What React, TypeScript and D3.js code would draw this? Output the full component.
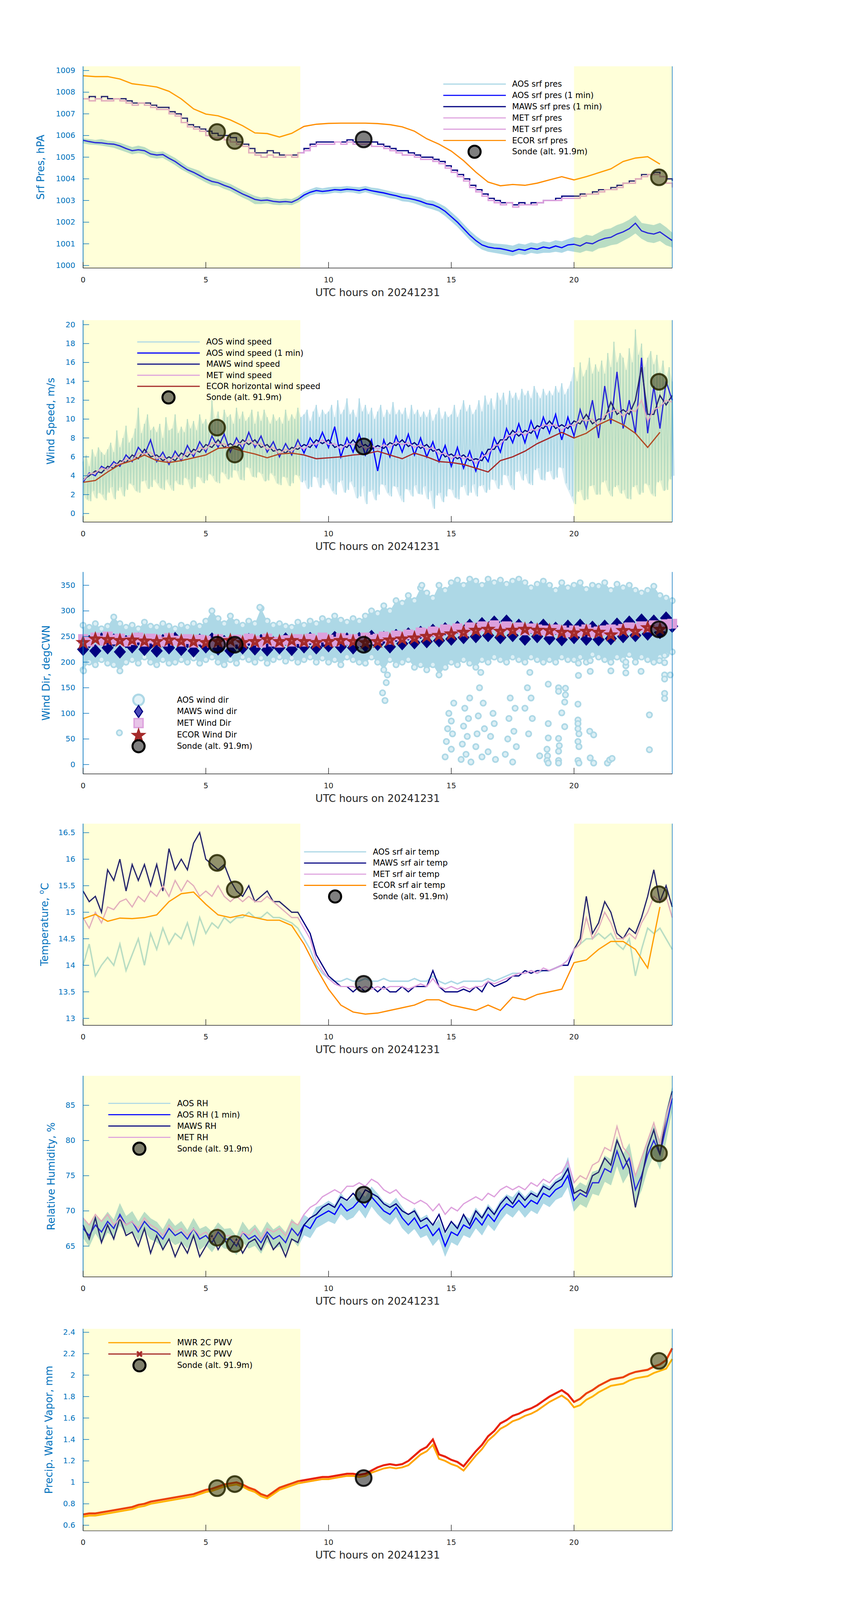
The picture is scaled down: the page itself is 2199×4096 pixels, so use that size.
import React from "react";
import * as d3 from "d3";

// ---------------- DATA (hours 0..24, step noted) ----------------
const STEP = 0.25;
const ECOR_STEP = 0.5;
const HI_STEP = 0.125;

const SONDE_TIME = [5.46, 6.18, 11.43, 23.46];
const SONDE_PRES = [1006.16, 1005.75, 1005.82, 1004.07];
const SONDE_WS = [9.1, 6.25, 7.1, 13.95];
const SONDE_DIR = [234, 234, 234, 264];
const SONDE_T = [15.93, 15.43, 13.65, 15.34];
const SONDE_RH = [66.2, 65.3, 72.3, 78.2];
const SONDE_PWV = [0.946, 0.984, 1.04, 2.133];

// Panel 1: pressure
const AOS_PRES_HI = [
  1005.85, 1005.82, 1005.78, 1005.82, 1005.75, 1005.72, 1005.65, 1005.55,
  1005.45, 1005.52, 1005.45, 1005.3, 1005.22, 1005.25, 1005.1, 1004.95,
  1004.75, 1004.55, 1004.45, 1004.35, 1004.15, 1004.05, 1003.95, 1003.85,
  1003.75, 1003.6, 1003.45, 1003.32, 1003.2, 1003.12, 1003.15, 1003.08,
  1003.05, 1003.08, 1003.05, 1003.18, 1003.38, 1003.5, 1003.6, 1003.55,
  1003.6, 1003.62, 1003.62, 1003.65, 1003.62, 1003.6, 1003.65, 1003.58,
  1003.55, 1003.48, 1003.42, 1003.35, 1003.3, 1003.25, 1003.18, 1003.12,
  1003.0, 1002.98, 1002.85, 1002.7, 1002.45, 1002.2, 1001.9, 1001.6,
  1001.35, 1001.15, 1001.05, 1001.0, 1000.98, 1000.95, 1000.9, 1001.0,
  1000.95, 1001.05, 1001.0, 1001.1, 1001.05, 1001.15, 1001.1, 1001.2,
  1001.3, 1001.25, 1001.4, 1001.35, 1001.5, 1001.65, 1001.7, 1001.85,
  1001.95, 1002.1, 1002.3, 1001.95, 1001.9, 1001.85, 1001.95, 1001.75,
  1001.5,
];
const AOS_PRES_LO = [
  1005.65, 1005.6, 1005.58, 1005.55, 1005.5, 1005.45, 1005.35, 1005.25,
  1005.15, 1005.2, 1005.15, 1005.0, 1004.95, 1004.98, 1004.82, 1004.65,
  1004.45, 1004.3, 1004.15, 1004.0, 1003.85, 1003.72, 1003.68, 1003.55,
  1003.45, 1003.3, 1003.15, 1003.02, 1002.85, 1002.85, 1002.88, 1002.82,
  1002.8, 1002.82, 1002.8, 1002.92, 1003.1, 1003.25, 1003.32, 1003.3,
  1003.32, 1003.38, 1003.35, 1003.4, 1003.38, 1003.32, 1003.4, 1003.32,
  1003.25, 1003.2, 1003.12, 1003.08, 1002.98, 1002.95, 1002.88, 1002.78,
  1002.68, 1002.6, 1002.5, 1002.3, 1002.05, 1001.8, 1001.5, 1001.2,
  1000.95, 1000.75, 1000.65, 1000.6, 1000.55, 1000.5, 1000.45, 1000.55,
  1000.5, 1000.6, 1000.55, 1000.6, 1000.6, 1000.65, 1000.6, 1000.7,
  1000.65, 1000.6, 1000.7, 1000.65, 1000.8, 1000.85, 1000.95, 1001.0,
  1001.15, 1001.3, 1001.5, 1001.25, 1001.1, 1001.05, 1001.15, 1000.95,
  1000.85,
];
const AOS_PRES_1MIN = [
  1005.78, 1005.72, 1005.67, 1005.66, 1005.62, 1005.6, 1005.52, 1005.4,
  1005.3, 1005.34, 1005.3, 1005.15, 1005.1, 1005.12, 1004.95, 1004.8,
  1004.6, 1004.42, 1004.3, 1004.15, 1004.0, 1003.88, 1003.82, 1003.7,
  1003.6, 1003.45, 1003.3, 1003.18, 1003.05, 1003.0, 1003.02, 1002.96,
  1002.93, 1002.95, 1002.92, 1003.05, 1003.25, 1003.38, 1003.46, 1003.42,
  1003.45, 1003.5, 1003.48, 1003.52, 1003.5, 1003.46, 1003.52, 1003.45,
  1003.4, 1003.35, 1003.28, 1003.22, 1003.14, 1003.1, 1003.04, 1002.96,
  1002.85, 1002.8, 1002.68, 1002.5, 1002.25, 1002.0, 1001.7, 1001.4,
  1001.15, 1000.95, 1000.85, 1000.8, 1000.78, 1000.72, 1000.65, 1000.75,
  1000.7, 1000.8, 1000.75, 1000.85, 1000.8, 1000.9, 1000.82, 1000.95,
  1000.98, 1000.9, 1001.05, 1001.0, 1001.15, 1001.25, 1001.3, 1001.45,
  1001.55, 1001.7, 1001.95, 1001.6, 1001.5, 1001.45, 1001.55, 1001.35,
  1001.15,
];
const MAWS_PRES = [
  1007.7, 1007.8, 1007.7, 1007.8, 1007.7, 1007.7, 1007.7, 1007.6,
  1007.5, 1007.5, 1007.5, 1007.4, 1007.3, 1007.3, 1007.1, 1007.0,
  1006.8, 1006.5, 1006.4, 1006.3, 1006.2, 1006.1, 1006.0, 1006.0,
  1005.9, 1005.7, 1005.6, 1005.4, 1005.2, 1005.2, 1005.3, 1005.2,
  1005.1, 1005.1, 1005.1, 1005.2, 1005.4, 1005.6, 1005.7, 1005.7,
  1005.7, 1005.7, 1005.7, 1005.8, 1005.7, 1005.7, 1005.7, 1005.7,
  1005.6, 1005.5, 1005.4, 1005.3, 1005.3, 1005.2, 1005.1, 1005.0,
  1005.0, 1004.9, 1004.8, 1004.6, 1004.4, 1004.2, 1004.0, 1003.7,
  1003.5, 1003.3, 1003.1, 1003.0, 1002.9, 1002.9, 1002.8, 1002.9,
  1002.8, 1002.9, 1002.9, 1003.0, 1003.0, 1003.1, 1003.2, 1003.2,
  1003.2, 1003.3, 1003.3, 1003.4, 1003.5, 1003.5, 1003.6, 1003.7,
  1003.8, 1003.9, 1004.0, 1004.2, 1004.2, 1004.3, 1004.1, 1004.0,
  1003.9,
];
const MET_PRES = [
  1007.7, 1007.6, 1007.7, 1007.6, 1007.6, 1007.7, 1007.6, 1007.5,
  1007.4, 1007.5, 1007.4, 1007.3, 1007.2, 1007.2, 1007.0, 1006.9,
  1006.6, 1006.4, 1006.3, 1006.2, 1006.0, 1005.9, 1005.9, 1005.8,
  1005.7, 1005.6, 1005.5, 1005.2, 1005.1, 1005.0, 1005.1, 1005.0,
  1005.0, 1005.1, 1005.0, 1005.2, 1005.3, 1005.5, 1005.6, 1005.6,
  1005.6, 1005.7, 1005.6, 1005.7, 1005.6, 1005.6, 1005.6, 1005.5,
  1005.5, 1005.4, 1005.3, 1005.2, 1005.1, 1005.1, 1005.0, 1004.9,
  1004.9, 1004.8, 1004.7, 1004.5, 1004.3, 1004.1, 1003.9, 1003.6,
  1003.4, 1003.2, 1003.0, 1002.9, 1002.8, 1002.9, 1002.7, 1002.8,
  1002.8, 1002.8, 1002.9, 1003.0, 1003.0, 1003.0, 1003.1, 1003.1,
  1003.1, 1003.2, 1003.3, 1003.3, 1003.4, 1003.5, 1003.5, 1003.6,
  1003.8, 1003.8, 1004.0, 1004.1, 1004.2, 1004.2, 1004.1, 1003.8,
  1003.6,
];
const ECOR_PRES = [
  1008.76, 1008.72, 1008.72, 1008.61, 1008.39, 1008.32, 1008.24, 1008.04, 1007.69, 1007.23,
  1006.99, 1006.91, 1006.72, 1006.45, 1006.12, 1006.09, 1005.93, 1006.1, 1006.42, 1006.52,
  1006.56, 1006.57, 1006.57, 1006.57, 1006.55, 1006.5, 1006.4, 1006.2, 1005.85, 1005.6,
  1005.28, 1004.84, 1004.31, 1003.85, 1003.68, 1003.74, 1003.7, 1003.8, 1003.95, 1004.1,
  1003.95, 1004.1, 1004.28, 1004.46, 1004.8, 1004.96, 1005.02, 1004.68,
];

// Panel 2: wind speed (raw AOS as high/low excursions every 0.125 h)
const AOS_WS_HI = [
  5.5, 6.2, 5.0, 6.8, 6.0, 7.0, 6.5, 6.2,
  6.8, 7.5, 6.5, 8.8, 7.0, 8.0, 9.3, 7.5,
  8.0, 9.0, 11.2, 8.5, 9.5, 10.5, 8.8, 9.2,
  8.6, 9.5, 8.0, 10.2, 8.8, 9.0, 10.5, 8.5,
  9.2, 8.6, 10.0, 9.0, 9.8, 8.8, 10.5, 9.5,
  10.0, 9.2, 12.0, 10.0, 10.8, 9.6, 11.0, 10.2,
  10.5, 9.5, 11.2, 10.0, 10.8, 9.8, 10.2, 11.0,
  9.5, 10.8, 9.8, 11.0, 10.2, 9.5, 10.5, 9.8,
  10.2, 9.5, 11.0, 9.8, 10.5, 10.0, 11.2, 10.2,
  10.5, 11.0, 9.8, 10.8, 11.5, 10.2, 11.0, 10.5,
  10.8, 11.5, 10.2, 12.0, 10.5, 11.0, 12.2, 10.5,
  11.0, 10.2, 12.2, 10.8, 11.5, 10.5, 11.2, 10.0,
  10.8, 11.5, 10.2, 11.0, 10.5, 11.8, 10.5, 11.0,
  10.5, 11.2, 10.0, 11.5, 10.5, 11.0, 10.2, 10.8,
  10.2, 11.0, 9.8, 10.5, 11.2, 10.0, 10.8, 10.2,
  10.5, 11.5, 10.2, 11.0, 12.0, 10.8, 11.5, 10.5,
  11.0, 12.0, 10.8, 12.5, 11.5, 12.2, 11.0, 12.8,
  12.0, 12.8, 11.5, 13.0, 12.2, 12.8, 12.0, 13.2,
  12.5, 13.0, 12.2, 13.5, 12.8, 12.2, 13.2, 12.5,
  13.0, 12.5, 13.5, 12.8, 13.8, 12.6, 13.2, 14.0,
  15.5, 14.0, 16.0, 14.5, 15.2, 16.5, 14.8, 15.8,
  15.0, 16.2, 14.8, 17.0, 15.5, 18.2, 16.0, 17.0,
  16.5, 15.2, 17.5, 16.0, 19.5, 16.8, 18.0, 15.5,
  16.5, 17.2, 15.8, 16.8, 15.0, 16.2, 14.5, 15.5,
  14.0,
];
const AOS_WS_LO = [
  2.0, 1.5, 1.3, 2.4, 1.6, 2.2, 2.0, 1.4,
  2.2, 2.8, 1.5, 2.4, 2.8, 1.8, 2.5, 3.2,
  3.0, 2.4, 2.2, 3.4, 3.5, 2.6, 2.8, 3.6,
  3.2, 2.7, 2.5, 3.6, 3.0, 2.4, 3.5, 3.1,
  3.0, 3.8, 3.6, 2.6, 2.8, 3.9, 3.8, 3.2,
  3.5, 4.2, 4.0, 3.4, 3.2, 4.4, 4.2, 3.6,
  3.8, 4.6, 4.5, 3.6, 3.5, 4.9, 4.8, 3.9,
  3.8, 4.4, 4.2, 3.4, 3.5, 4.3, 4.0, 3.2,
  3.0, 3.9, 3.8, 2.9, 3.2, 4.1, 4.0, 3.3,
  3.5, 2.6, 2.8, 3.9, 3.8, 2.7, 3.0, 3.7,
  3.2, 2.4, 2.0, 3.3, 3.5, 2.2, 2.5, 3.4,
  2.8, 1.6, 1.8, 2.9, 1.0, 2.3, 2.5, 1.4,
  2.0, 3.1, 3.0, 2.2, 1.8, 2.9, 2.8, 1.9,
  1.2, 2.6, 2.5, 1.8, 3.0, 2.1, 2.0, 2.9,
  1.5, 2.4, 0.5, 1.9, 2.2, 1.2, 1.8, 2.6,
  2.5, 1.7, 1.5, 2.8, 3.0, 1.9, 2.2, 3.1,
  1.8, 2.9, 3.0, 2.2, 2.5, 3.6, 3.5, 2.6,
  3.0, 4.1, 4.0, 3.0, 2.5, 4.4, 4.5, 3.5,
  4.2, 3.2, 3.0, 4.6, 4.8, 3.6, 3.5, 4.4,
  4.5, 3.6, 3.8, 4.9, 4.8, 3.2, 2.5, 1.8,
  1.0, 2.3, 2.5, 1.4, 1.5, 2.9, 3.0, 2.0,
  2.0, 3.3, 3.5, 2.4, 1.8, 2.8, 3.0, 2.1,
  2.5, 1.6, 1.5, 2.8, 3.0, 2.0, 2.2, 3.2,
  3.0, 2.1, 1.8, 3.3, 3.5, 2.4, 2.5, 3.6,
  4.0,
];
const AOS_WS_1MIN = [
  3.3, 4.3, 4.0, 5.0, 4.6, 5.5, 5.0, 6.2, 5.5, 7.0, 6.2, 7.8,
  5.5, 6.5, 5.2, 6.6, 5.6, 7.2, 6.0, 7.6, 6.5, 8.2, 7.0, 8.4,
  6.5, 8.0, 6.8, 8.6, 7.0, 8.2, 6.5, 7.6, 6.0, 7.4, 6.2, 7.8,
  6.4, 8.0, 7.0, 8.6, 7.0, 9.2, 6.0, 8.0, 6.5, 8.4, 6.2, 7.8,
  4.5, 7.8, 6.0, 8.2, 6.5, 8.4, 6.2, 8.0, 6.0, 7.6, 5.5, 7.2,
  5.0, 7.0, 4.8, 6.6, 4.5, 6.5, 5.5, 8.0, 6.5, 9.0, 7.5, 9.5,
  7.5, 9.8, 8.0, 10.2, 8.5, 10.5, 7.8, 10.2, 8.2, 11.0, 9.0, 12.0,
  8.0, 13.5, 9.5, 15.0, 9.0, 12.0, 8.5, 16.5, 8.5, 13.5, 9.0, 14.0,
  12.0,
];
const MAWS_WS = [
  3.6, 4.0, 4.5, 4.3, 5.0, 4.8, 5.6, 5.4, 6.2, 5.8, 6.8, 6.0,
  6.2, 5.6, 6.0, 5.6, 6.4, 6.0, 6.8, 6.5, 7.3, 7.0, 7.8, 7.0,
  7.4, 7.0, 7.8, 7.3, 7.8, 7.0, 7.3, 6.6, 6.8, 6.4, 7.0, 6.8,
  7.3, 7.0, 7.8, 7.4, 7.8, 7.0, 7.3, 7.0, 7.8, 7.0, 7.3, 6.8,
  7.2, 6.9, 7.5, 7.2, 7.8, 7.1, 7.5, 6.9, 7.3, 6.6, 6.8, 6.0,
  6.3, 5.8, 6.2, 5.6, 5.8, 5.6, 6.8, 6.8, 7.8, 7.8, 8.8, 8.2,
  8.8, 8.5, 9.3, 9.0, 9.8, 9.0, 9.4, 9.0, 9.8, 9.5, 10.5, 9.5,
  10.0, 10.0, 11.8, 10.5, 11.0, 10.5, 12.0, 15.5, 10.5, 10.5, 12.5, 11.5,
  12.5,
];
const MET_WS = [
  3.5, 4.2, 4.3, 4.8, 4.6, 5.2, 5.2, 5.8, 5.6, 6.4, 6.3, 6.5,
  5.8, 6.0, 5.5, 6.1, 5.8, 6.5, 6.3, 7.0, 6.8, 7.5, 7.3, 7.4,
  6.8, 7.5, 7.3, 7.8, 7.3, 7.4, 6.8, 7.0, 6.3, 6.8, 6.6, 7.2,
  6.8, 7.4, 7.3, 7.8, 7.3, 7.4, 6.8, 7.4, 7.3, 7.5, 6.8, 7.2,
  6.8, 7.3, 7.0, 7.6, 7.3, 7.5, 7.0, 7.3, 6.8, 7.0, 6.3, 6.4,
  5.8, 6.2, 5.8, 6.0, 5.3, 6.0, 6.3, 7.2, 7.3, 8.2, 8.3, 8.7,
  8.3, 8.9, 8.8, 9.4, 9.3, 9.4, 8.8, 9.4, 9.3, 10.0, 9.8, 10.0,
  9.3, 10.4, 10.8, 11.0, 10.3, 11.0, 10.8, 12.0, 9.8, 11.0, 11.3, 12.0,
  11.8,
];
const ECOR_WS = [
  3.3, 3.5, 4.4, 5.2, 5.6, 6.2, 5.6, 5.4, 5.6, 5.9,
  6.2, 6.9, 7.0, 6.6, 6.3, 5.9, 6.3, 6.4, 6.2, 5.8,
  5.9, 6.0, 6.2, 6.3, 6.6, 6.2, 5.8, 6.4, 6.0, 5.5,
  5.4, 5.2, 4.8, 4.4, 5.6, 6.0, 6.6, 7.4, 8.0, 8.6,
  8.0, 8.5, 9.4, 10.0, 9.4, 8.5, 7.0, 8.6,
];

// Panel 3: wind direction
const AOS_DIR_HI = [
  272, 268, 275, 265, 270, 288, 275, 268, 272, 265, 278, 270,
  268, 275, 270, 265, 272, 268, 275, 270, 280, 300, 285, 275,
  290, 278, 272, 280, 275, 305, 280, 272, 275, 270, 268, 278,
  272, 280, 275, 285, 280, 290, 282, 278, 285, 280, 290, 300,
  295, 310, 300, 320, 315, 330, 320, 345, 335, 325, 350, 340,
  355, 360, 350, 362, 358, 350, 362, 355, 360, 352, 358, 362,
  355, 345, 352, 358, 350, 340, 355, 345, 350, 355, 342, 350,
  348, 355, 340, 352, 345, 350, 340, 335, 340, 348, 330, 325,
  320,
];
const AOS_DIR_LO = [
  185, 200, 195, 205, 198, 195, 183, 200, 205, 198, 210, 200,
  195, 205, 198, 200, 205, 200, 208, 198, 205, 210, 200, 195,
  205, 198, 210, 205, 200, 208, 198, 205, 210, 202, 208, 200,
  205, 210, 200, 208, 200, 205, 195, 210, 205, 200, 198, 210,
  200, 185, 205, 195, 200, 205, 190, 195, 185, 195, 175, 190,
  200, 195, 205, 198, 190, 205, 200, 210, 205, 200, 210, 205,
  200, 210, 205, 200, 205, 200, 210, 205, 205, 210, 200, 215,
  210, 205, 200, 210, 205, 215, 200, 210, 205, 200, 210, 215,
  220,
];
// scattered AOS wind-direction points: [hour, degrees]
const AOS_DIR_OUT = [
  [1.48, 62], [0.02, 183], [7.2, 307], [12.2, 140], [12.3, 125], [12.35, 160], [12.4, 175], [13.8, 350],
  [14.75, 15], [14.8, 45], [14.85, 70], [14.9, 100], [15.0, 30], [15.05, 60], [15.1, 120], [15.0, 85],
  [15.4, 10], [15.45, 40], [15.5, 75], [15.55, 110], [15.6, 20], [15.65, 55], [15.7, 90], [15.8, 5], [15.75, 130],
  [16.0, 35], [16.05, 60], [16.1, 95], [16.15, 150], [16.2, 180], [16.25, 15], [16.3, 120], [16.35, 70],
  [16.5, 25], [16.6, 55], [16.7, 100], [16.75, 80], [16.8, 10],
  [17.2, 20], [17.3, 50], [17.35, 90], [17.4, 130], [17.5, 5], [17.55, 65], [17.6, 110], [17.65, 35],
  [18.0, 110], [18.1, 150], [18.2, 180], [18.25, 130], [18.3, 90], [18.15, 60],
  [18.6, 17], [18.9, 30], [18.92, 17], [18.9, 8], [18.95, 3], [18.95, 80], [18.95, 52], [18.95, 157],
  [19.37, 51], [19.4, 37], [19.37, 26], [19.37, 8], [19.37, 3], [19.62, 74], [19.5, 101], [19.62, 122],
  [19.65, 136], [19.65, 149], [19.37, 150], [19.37, 143],
  [20.16, 118], [20.16, 87], [20.16, 80], [20.16, 70], [20.2, 60], [20.16, 45], [20.2, 35], [20.16, 8],
  [20.2, 3], [20.18, 174], [20.18, 198],
  [20.66, 182], [20.66, 203], [20.64, 65], [20.8, 58], [20.66, 13], [20.8, 3],
  [21.36, 3], [21.45, 9], [21.55, 12], [21.5, 183], [21.5, 200],
  [22.11, 179], [22.11, 193], [22.11, 200], [22.73, 182], [23.07, 97], [23.07, 29], [23.48, 203],
  [23.69, 175], [23.69, 167], [23.69, 139], [23.69, 129], [23.69, 199], [23.69, 213], [23.92, 175],
];
const MAWS_DIR = [
  225, 240, 222, 245, 228, 243, 220, 240, 230, 245, 225, 238,
  222, 242, 228, 246, 225, 240, 222, 243, 230, 245, 226, 240,
  222, 238, 228, 244, 226, 242, 224, 238, 228, 245, 225, 240,
  230, 246, 228, 242, 232, 248, 230, 245, 228, 246, 232, 250,
  235, 248, 230, 252, 236, 255, 238, 258, 240, 262, 242, 265,
  245, 268, 248, 272, 250, 275, 252, 278, 248, 280, 252, 272,
  245, 268, 250, 272, 246, 266, 244, 270, 248, 272, 245, 268,
  244, 270, 246, 274, 250, 278, 252, 282, 255, 280, 258, 286,
  270,
];
const MET_DIR = [
  245, 240, 248, 242, 250, 244, 246, 240, 243, 248, 240, 246,
  244, 240, 247, 242, 240, 245, 238, 244, 242, 238, 245, 240,
  238, 244, 240, 246, 242, 238, 246, 240, 238, 243, 240, 245,
  240, 246, 242, 248, 244, 240, 247, 243, 245, 241, 248, 244,
  246, 250, 244, 252, 250, 254, 252, 258, 256, 260, 258, 264,
  262, 266, 260, 268, 265, 270, 268, 272, 266, 270, 265, 268,
  262, 266, 264, 262, 260, 264, 262, 258, 262, 260, 264, 258,
  260, 262, 264, 262, 265, 268, 266, 270, 268, 272, 270, 274,
  275,
];
const ECOR_DIR = [
  238, 245, 244, 242, 243, 241, 240, 243, 241, 240,
  238, 240, 242, 238, 240, 244, 240, 242, 240, 238,
  240, 242, 240, 238, 240, 243, 245, 247, 250, 252,
  255, 258, 262, 264, 260, 262, 264, 262, 261.5, 258,
  257, 260, 258, 253, 261.5, 260, 267, 264,
];

// Panel 4: temperature
const AOS_T = [
  14.0, 14.4, 13.8, 14.0, 14.15, 14.0, 14.4, 13.9, 14.2, 14.5, 14.0, 14.6,
  14.3, 14.7, 14.4, 14.6, 14.5, 14.8, 14.4, 14.9, 14.6, 14.8, 14.7, 14.9,
  14.8, 14.9, 14.9, 15.0, 14.9, 14.9, 15.0, 14.9, 14.9, 14.85, 14.8, 14.7,
  14.5, 14.3, 14.0, 13.85, 13.75, 13.7, 13.7, 13.75, 13.7, 13.7, 13.75, 13.7,
  13.7, 13.75, 13.7, 13.7, 13.7, 13.7, 13.75, 13.7, 13.7, 13.8, 13.7, 13.65,
  13.7, 13.65, 13.7, 13.7, 13.7, 13.7, 13.75, 13.7, 13.75, 13.8, 13.85, 13.85,
  13.85, 13.9, 13.85, 13.9, 13.9, 13.95, 14.0, 14.1, 14.3, 14.4, 14.5, 14.5,
  14.6, 14.5, 14.6, 14.4, 14.3, 14.5, 13.8, 14.3, 14.7, 14.6, 14.7, 14.5,
  14.3,
];
const MAWS_T = [
  15.4, 15.2, 15.3, 15.0, 15.8, 15.6, 16.0, 15.4, 15.9, 15.6, 15.9, 15.5,
  15.9, 15.4, 16.2, 15.8, 16.0, 15.8, 16.3, 16.5, 16.0, 15.9, 15.8, 15.9,
  15.6, 15.4, 15.3, 15.5, 15.2, 15.3, 15.4, 15.2, 15.2, 15.1, 15.0, 15.0,
  14.8, 14.6, 14.2, 14.0, 13.8, 13.7, 13.6, 13.6, 13.5, 13.6, 13.5, 13.6,
  13.5, 13.6, 13.5, 13.5, 13.6, 13.5, 13.6, 13.6, 13.6, 13.9, 13.6, 13.5,
  13.5, 13.5, 13.55, 13.5, 13.6, 13.5, 13.7, 13.6, 13.65, 13.7, 13.8, 13.8,
  13.9, 13.85, 13.9, 13.9, 13.9, 13.95, 14.0, 14.0, 14.3, 14.5, 15.3, 14.6,
  14.8, 15.2, 15.0, 14.6, 14.5, 14.7, 14.6, 14.9, 15.3, 15.8, 15.2, 15.5,
  15.1,
];
const MET_T = [
  14.9, 14.7, 15.0, 14.8, 15.1, 15.05, 15.2, 15.25, 15.1, 15.3, 15.2, 15.4,
  15.3, 15.5, 15.3, 15.6, 15.4, 15.6, 15.5, 15.3, 15.4, 15.3, 15.5, 15.3,
  15.2, 15.3, 15.2, 15.3, 15.2, 15.2, 15.3, 15.2, 15.1, 15.0, 14.9, 14.9,
  14.7, 14.5, 14.1, 13.9, 13.75, 13.65, 13.6, 13.6, 13.6, 13.55, 13.6, 13.55,
  13.6, 13.55, 13.6, 13.6, 13.6, 13.55, 13.6, 13.65, 13.6, 13.75, 13.6, 13.55,
  13.6, 13.55, 13.6, 13.55, 13.6, 13.6, 13.7, 13.65, 13.7, 13.75, 13.8, 13.85,
  13.85, 13.9, 13.85, 13.95, 13.9, 13.95, 14.0, 14.1, 14.3, 14.4, 14.9, 14.5,
  14.7, 15.0, 14.8, 14.5, 14.5, 14.6, 14.5, 14.8, 15.0, 15.3, 15.2, 15.3,
  14.9,
];
const ECOR_T = [
  14.88, 14.96, 14.83, 14.89, 14.88, 14.9, 14.95, 15.2, 15.35, 15.38,
  15.15, 14.95, 14.9, 14.95, 14.9, 14.85, 14.85, 14.75, 14.4, 13.95,
  13.55, 13.25, 13.12, 13.08, 13.1, 13.15, 13.2, 13.25, 13.35, 13.35,
  13.25, 13.2, 13.15, 13.25, 13.15, 13.4, 13.35, 13.45, 13.5, 13.55,
  14.05, 14.1, 14.3, 14.45, 14.45, 14.3, 13.95, 15.1,
];

// Panel 5: relative humidity
const AOS_RH_HI = [
  69.0, 67.8, 69.2, 68.6, 69.8, 68.7, 71.0, 69.2, 69.9, 68.4, 69.8, 68.9,
  68.4, 67.3, 68.9, 67.8, 68.5, 67.2, 68.9, 67.4, 67.8, 67.0, 68.3, 67.4,
  67.5, 66.3, 68.4, 67.2, 68.0, 66.8, 68.4, 67.3, 67.9, 66.9, 68.8, 67.9,
  69.4, 68.8, 70.5, 70.8, 71.4, 70.8, 72.5, 71.3, 71.9, 72.8, 71.9, 73.4,
  72.4, 71.3, 70.9, 71.8, 70.5, 69.3, 70.4, 68.9, 69.4, 67.9, 68.8, 66.5,
  68.4, 67.9, 69.4, 68.8, 70.4, 69.3, 70.9, 69.9, 71.4, 72.3, 71.9, 72.9,
  71.9, 72.9, 72.4, 73.9, 73.4, 74.4, 75.0, 77.5, 73.0, 74.0, 73.5, 75.5,
  75.8, 77.8, 77.3, 80.5, 78.0, 79.5, 75.0, 77.0, 80.0, 82.0, 80.0, 84.0,
  87.5,
];
const AOS_RH_LO = [
  66.2, 65.0, 66.9, 65.5, 67.0, 66.3, 68.0, 66.8, 67.1, 65.8, 67.2, 66.0,
  65.6, 64.8, 66.0, 65.2, 65.6, 64.7, 66.2, 64.5, 65.2, 64.2, 65.5, 64.7,
  64.6, 63.8, 65.6, 64.7, 65.1, 64.0, 65.7, 64.6, 65.0, 64.2, 66.1, 65.0,
  66.6, 66.2, 67.6, 68.1, 68.6, 68.2, 69.6, 68.7, 69.1, 70.2, 69.0, 70.7,
  69.6, 68.7, 68.1, 69.2, 67.6, 66.7, 67.5, 66.2, 66.6, 65.1, 66.1, 63.6,
  65.6, 65.1, 66.6, 66.2, 67.6, 66.6, 68.1, 67.2, 68.6, 69.7, 69.1, 70.2,
  69.1, 70.1, 69.6, 71.1, 70.6, 71.6, 72.0, 73.5, 70.0, 71.0, 70.5, 72.5,
  72.2, 74.2, 73.7, 76.5, 74.0, 75.5, 71.0, 73.0, 76.0, 78.0, 76.0, 80.0,
  84.5,
];
const AOS_RH_1MIN = [
  67.5, 66.5, 68.0, 67.0, 68.5, 67.5, 69.5, 68.0, 68.5, 67.0, 68.5, 67.5,
  67.0, 66.0, 67.5, 66.5, 67.0, 66.0, 67.5, 66.0, 66.5, 65.5, 67.0, 66.0,
  66.0, 65.0, 67.0, 66.0, 66.5, 65.5, 67.0, 66.0, 66.5, 65.5, 67.5, 66.5,
  68.0, 67.5, 69.0, 69.5, 70.0, 69.5, 71.0, 70.0, 70.5, 71.5, 70.5, 72.0,
  71.0, 70.0, 69.5, 70.5, 69.0, 68.0, 69.0, 67.5, 68.0, 66.5, 67.5, 65.0,
  67.0, 66.5, 68.0, 67.5, 69.0, 68.0, 69.5, 68.5, 70.0, 71.0, 70.5, 71.5,
  70.5, 71.5, 71.0, 72.5, 72.0, 73.0, 73.5, 75.0, 71.5, 72.5, 72.0, 74.0,
  74.0, 76.0, 75.5, 78.5, 76.0, 77.5, 73.0, 75.0, 78.0, 80.0, 78.0, 82.0,
  86.0,
];
const MAWS_RH = [
  68.0, 66.0, 69.0, 65.5, 68.0, 66.0, 69.0, 66.5, 67.0, 65.0, 67.5, 64.0,
  66.5, 64.5, 66.0, 63.5, 65.5, 64.0, 66.5, 63.5, 65.0, 66.5, 64.5, 66.0,
  64.5, 66.0, 64.0, 65.5, 66.0, 64.5, 66.5, 64.5, 65.5, 63.5, 66.0, 65.5,
  68.0, 69.0, 69.5, 70.5, 71.0, 70.5, 72.0, 71.5, 72.5, 71.5, 73.0, 72.5,
  72.0, 71.0, 70.5, 71.0, 70.0, 69.5, 70.0, 68.5, 69.0, 68.0, 69.5, 67.0,
  68.5, 67.5, 69.5, 68.0, 70.0, 69.0, 70.5, 69.5, 71.0, 72.0, 71.0, 72.5,
  71.5, 72.5, 72.0, 73.5, 73.0, 74.0, 74.5, 76.0, 72.5, 73.0, 72.5, 75.0,
  75.5, 77.5, 76.5, 80.0, 78.0, 76.0, 70.5, 74.5, 79.0, 81.5, 78.0, 83.5,
  87.0,
];
const MET_RH = [
  69.0, 68.0, 69.5, 68.5, 69.5, 68.0, 69.0, 68.0, 68.5, 67.5, 69.0, 68.0,
  67.5, 66.5, 68.0, 67.0, 67.5, 66.5, 67.5, 66.5, 67.0, 66.0, 67.5, 66.5,
  66.5, 65.5, 67.0, 66.5, 67.5, 66.0, 67.5, 67.0, 67.5, 66.5, 68.5, 68.0,
  69.5, 70.5, 71.0, 72.0, 72.5, 73.0, 72.5, 73.5, 73.5, 74.0, 73.5, 74.5,
  74.0, 73.0, 72.5, 73.0, 72.0, 71.5, 71.0, 71.5, 71.0, 70.0, 71.0, 69.5,
  70.5, 70.0, 71.0, 71.5, 72.0, 71.5, 72.5, 72.0, 73.0, 73.5, 73.0, 73.5,
  73.0, 74.0, 73.5, 74.5, 74.0, 75.0, 75.5, 77.0, 74.0, 75.0, 74.5, 76.5,
  77.0, 79.0, 78.5, 82.0, 79.0, 78.0, 75.0, 77.5, 80.0, 82.5, 79.5, 83.5,
  86.5,
];

// Panel 6: precipitable water vapor
const MWR2C_PWV = [
  0.68, 0.69, 0.69, 0.7, 0.71, 0.72, 0.73, 0.74, 0.75, 0.77, 0.78, 0.8,
  0.81, 0.82, 0.83, 0.84, 0.85, 0.86, 0.87, 0.89, 0.91, 0.92, 0.94, 0.96,
  0.97, 0.98, 0.96, 0.93, 0.91, 0.87, 0.85, 0.89, 0.93, 0.95, 0.97, 0.99,
  1.0, 1.01, 1.02, 1.03, 1.03, 1.04, 1.05, 1.06, 1.06, 1.05, 1.06, 1.09,
  1.11, 1.13, 1.14, 1.13, 1.14, 1.16, 1.21, 1.26, 1.29, 1.35, 1.22, 1.2,
  1.17, 1.15, 1.11, 1.18, 1.25, 1.31, 1.39, 1.44, 1.5, 1.53, 1.57, 1.59,
  1.62, 1.64, 1.67, 1.71, 1.75, 1.78, 1.81, 1.77, 1.7, 1.72, 1.77, 1.8,
  1.84, 1.87, 1.9, 1.91, 1.92, 1.95, 1.97, 1.98, 1.99, 2.02, 2.04, 2.06,
  2.15,
];
const MWR3C_PWV = [
  0.7, 0.71, 0.71, 0.72, 0.73, 0.74, 0.75, 0.76, 0.77, 0.79, 0.8, 0.82,
  0.83, 0.84, 0.85, 0.86, 0.87, 0.88, 0.89, 0.91, 0.93, 0.94, 0.96, 0.98,
  0.99, 1.0, 0.98, 0.95, 0.93, 0.89, 0.87, 0.91, 0.95, 0.97, 0.99, 1.01,
  1.02, 1.03, 1.04, 1.05, 1.05, 1.06, 1.07, 1.08, 1.08, 1.07, 1.08, 1.11,
  1.14, 1.16, 1.17, 1.16, 1.17, 1.2, 1.25, 1.3, 1.33, 1.4, 1.26, 1.24,
  1.21, 1.19, 1.15, 1.22, 1.29, 1.35, 1.43, 1.48, 1.55, 1.58, 1.62, 1.64,
  1.67, 1.69, 1.72, 1.76, 1.8, 1.83, 1.86, 1.82, 1.75, 1.78, 1.83, 1.86,
  1.9, 1.93, 1.96, 1.97, 1.98, 2.01, 2.03, 2.04, 2.05, 2.08, 2.1, 2.14,
  2.25,
];

// Axis ticks
const X_TICKS = [0, 5, 10, 15, 20];
const PRES_TICKS = [1000, 1001, 1002, 1003, 1004, 1005, 1006, 1007, 1008, 1009];
const WS_TICKS = [0, 2, 4, 6, 8, 10, 12, 14, 16, 18, 20];
const DIR_TICKS = [0, 50, 100, 150, 200, 250, 300, 350];
const T_TICKS = [13, 13.5, 14, 14.5, 15, 15.5, 16, 16.5];
const RH_TICKS = [65, 70, 75, 80, 85];
const PWV_TICKS = [0.6, 0.8, 1, 1.2, 1.4, 1.6, 1.8, 2, 2.2, 2.4];
const SHADE = [[0, 8.85], [20, 24]];

// ---------------- LAYOUT (reference pixels, scaled by S) ----------------
const S = 0.574;
const X0 = 370.5;
const X1 = 2998;
const AX = "#0072BD";
const DARK = "#262626";
const FONT = "DejaVu Sans, Verdana, sans-serif";
const LW = 5.5;

const C = {
  aos: "#ADD8E6",
  aos1: "#0000FF",
  maws: "#000080",
  met: "#DDA0DD",
  ecor: "#FF8C00",
  ecorWs: "#A52A2A",
  mwr2: "#FFA500",
  mwr3: "#E8220C",
};

const x = d3.scaleLinear().domain([0, 24]).range([X0, X1]);

function pts(arr, step) {
  return arr.map((v, i) => [i * step, v]);
}

function linePath(y, arr, step, curve) {
  const g = d3.line().x((d) => x(d[0])).y((d) => y(d[1]));
  if (curve) g.curve(curve);
  return g(pts(arr, step));
}

function bandPath(y, hi, hiStep, lo, loStep) {
  const top = pts(hi, hiStep).map((d) => [x(d[0]), y(d[1])]);
  const bot = pts(lo, loStep).map((d) => [x(d[0]), y(d[1])]).reverse();
  return d3.line()(top.concat(bot)) + "Z";
}

// zig-zag through high and low excursions (same step)
function zigzagPath(y, hi, lo, step) {
  const seq = [];
  hi.forEach((v, i) => {
    seq.push([x(i * step), y(v)]);
    if (i < lo.length) seq.push([x(i * step + step / 2), y(lo[i])]);
  });
  return d3.line()(seq);
}

function starPath(cx, cy, R) {
  const r = R * 0.4;
  let d = "";
  for (let k = 0; k < 10; k++) {
    const a = -Math.PI / 2 + (k * Math.PI) / 5;
    const rad = k % 2 === 0 ? R : r;
    d += (k ? "L" : "M") + (cx + rad * Math.cos(a)).toFixed(1) + "," + (cy + rad * Math.sin(a)).toFixed(1);
  }
  return d + "Z";
}

function diamondPath(cx, cy, w, h) {
  return `M${cx},${cy - h}L${cx + w},${cy}L${cx},${cy + h}L${cx - w},${cy}Z`;
}

function xPath(cx, cy, r) {
  return `M${cx - r},${cy - r}L${cx + r},${cy + r}M${cx - r},${cy + r}L${cx + r},${cy - r}`;
}

function Sonde({ y, vals }) {
  return (
    <g>
      {SONDE_TIME.map((t, i) => (
        <circle key={i} cx={x(t)} cy={y(vals[i])} r={35} fill="#000" fillOpacity={0.5}
          stroke="#000" strokeOpacity={0.85} strokeWidth={9} />
      ))}
    </g>
  );
}

function Frame({ p, y }) {
  const mid = (p.top + p.bottom) / 2;
  return (
    <g fontFamily={FONT}>
      <line x1={X0} x2={X0} y1={p.top} y2={p.bottom} stroke={AX} strokeWidth={3} />
      <line x1={X1} x2={X1} y1={p.top} y2={p.bottom} stroke={AX} strokeWidth={2.5} />
      <line x1={X0} x2={X1} y1={p.bottom} y2={p.bottom} stroke={DARK} strokeWidth={2.5} />
      {p.ticks.map((t, k) => (
        <g key={k}>
          <line x1={X0} x2={X0 + 27} y1={y(t)} y2={y(t)} stroke={AX} strokeWidth={2.5} />
          <text x={X0 - 35} y={y(t)} textAnchor="end" dominantBaseline="central" fontSize={34} fill={AX}>
            {String(t)}
          </text>
        </g>
      ))}
      {X_TICKS.map((t, k) => (
        <g key={"x" + k}>
          <line x1={x(t)} x2={x(t)} y1={p.bottom} y2={p.bottom - 27} stroke={DARK} strokeWidth={2.5} />
          <text x={x(t)} y={p.bottom + 52} textAnchor="middle" dominantBaseline="central" fontSize={34} fill={DARK}>
            {String(t)}
          </text>
        </g>
      ))}
      <text x={(X0 + X1) / 2} y={p.bottom + 108} textAnchor="middle" dominantBaseline="central" fontSize={46} fill={DARK}>
        UTC hours on 20241231
      </text>
      <text transform={`translate(${p.labelX},${mid}) rotate(-90)`} textAnchor="middle" dominantBaseline="central"
        fontSize={46} fill={AX}>
        {p.label}
        {p.sup ? (
          <>
            <tspan dy={-14} fontSize={30}>o</tspan>
            <tspan dy={14}>C</tspan>
          </>
        ) : null}
      </text>
    </g>
  );
}

function Shade({ p }) {
  return (
    <g>
      {SHADE.map((s, k) => (
        <rect key={k} x={x(s[0])} y={p.top} width={x(s[1]) - x(s[0])} height={p.bottom - p.top}
          fill="#FFFF00" fillOpacity={0.15} />
      ))}
    </g>
  );
}

function Legend({ lx0, lx1, tx, y0, dy, items }) {
  const cx = (lx0 + lx1) / 2;
  return (
    <g fontFamily={FONT}>
      {items.map((it, i) => {
        const yy = y0 + i * dy;
        let mark = null;
        if (it.kind === "line") {
          mark = (
            <g>
              <line x1={lx0} x2={lx1} y1={yy} y2={yy} stroke={it.color} strokeWidth={5} />
              {it.xmark ? <path d={xPath(cx, yy, 11)} stroke={it.color} strokeWidth={9} /> : null}
            </g>
          );
        } else if (it.kind === "sonde") {
          mark = <circle cx={it.mx || cx} cy={yy} r={27} fill="#000" fillOpacity={0.5} stroke="#000" strokeWidth={9} />;
        } else if (it.kind === "circle") {
          mark = <circle cx={it.mx} cy={yy} r={24} fill="#E4F3F8" stroke={C.aos} strokeWidth={9} />;
        } else if (it.kind === "diamond") {
          mark = <path d={diamondPath(it.mx, yy, 18, 27)} fill="#4848B8" stroke={C.maws} strokeWidth={5} />;
        } else if (it.kind === "square") {
          mark = <rect x={it.mx - 20} y={yy - 20} width={40} height={40} fill="#E8C4E8" stroke={C.met} strokeWidth={6} />;
        } else if (it.kind === "star") {
          mark = <path d={starPath(it.mx, yy + 4, 34)} fill={C.ecorWs} stroke={C.ecorWs} strokeWidth={2} />;
        }
        return (
          <g key={i}>
            {mark}
            <text x={tx} y={yy} dominantBaseline="central" fontSize={36} fill="#000">{it.label}</text>
          </g>
        );
      })}
    </g>
  );
}

const P = [
  { top: 295.6, bottom: 1195.6, domain: [999.88, 1009.196], ticks: PRES_TICKS, label: "Srf Pres, hPA", labelX: 180 },
  { top: 1427.8, bottom: 2328.5, domain: [-0.91, 20.48], ticks: WS_TICKS, label: "Wind Speed, m/s", labelX: 226 },
  { top: 2551, bottom: 3451.5, domain: [-18.2, 376], ticks: DIR_TICKS, label: "Wind Dir, degCWN", labelX: 205 },
  { top: 3673.4, bottom: 4572.6, domain: [12.87, 16.67], ticks: T_TICKS, label: "Temperature, ", labelX: 198, sup: true },
  { top: 4798, bottom: 5694.7, domain: [60.63, 89.19], ticks: RH_TICKS, label: "Relative Humidity, %", labelX: 227 },
  { top: 5926.5, bottom: 6827.3, domain: [0.548, 2.432], ticks: PWV_TICKS, label: "Precip. Water Vapor, mm", labelX: 217 },
];

function yScale(p) {
  return d3.scaleLinear().domain(p.domain).range([p.bottom, p.top]);
}

function Panel1() {
  const p = P[0];
  const y = yScale(p);
  return (
    <g>
      <path d={bandPath(y, AOS_PRES_HI, STEP, AOS_PRES_LO, STEP)} fill={C.aos} stroke={C.aos} strokeWidth={3} />
      <path d={linePath(y, AOS_PRES_1MIN, STEP)} fill="none" stroke={C.aos1} strokeWidth={LW} />
      <path d={linePath(y, MAWS_PRES, STEP, d3.curveStepAfter)} fill="none" stroke={C.maws} strokeWidth={LW} />
      <path d={linePath(y, MET_PRES, STEP, d3.curveStepAfter)} fill="none" stroke={C.met} strokeWidth={LW} />
      <path d={linePath(y, MET_PRES, STEP, d3.curveStepAfter)} fill="none" stroke={C.met} strokeWidth={LW} />
      <path d={linePath(y, ECOR_PRES, ECOR_STEP)} fill="none" stroke={C.ecor} strokeWidth={LW} />
      <Sonde y={y} vals={SONDE_PRES} />
      <Shade p={p} />
      <Frame p={p} y={y} />
      <Legend lx0={1977} lx1={2256} tx={2284} y0={375} dy={50.3} items={[
        { kind: "line", color: C.aos, label: "AOS srf pres" },
        { kind: "line", color: C.aos1, label: "AOS srf pres (1 min)" },
        { kind: "line", color: C.maws, label: "MAWS srf pres (1 min)" },
        { kind: "line", color: C.met, label: "MET srf pres" },
        { kind: "line", color: C.met, label: "MET srf pres" },
        { kind: "line", color: C.ecor, label: "ECOR srf pres" },
        { kind: "sonde", label: "Sonde (alt. 91.9m)" },
      ]} />
    </g>
  );
}

function Panel2() {
  const p = P[1];
  const y = yScale(p);
  return (
    <g>
      <path d={bandPath(y, AOS_WS_HI, HI_STEP, AOS_WS_LO, HI_STEP)} fill={C.aos} fillOpacity={0.45} />
      <path d={zigzagPath(y, AOS_WS_HI, AOS_WS_LO, HI_STEP)} fill="none" stroke={C.aos} strokeWidth={5} strokeLinejoin="miter" />
      <path d={linePath(y, AOS_WS_1MIN, STEP)} fill="none" stroke={C.aos1} strokeWidth={LW} />
      <path d={linePath(y, MAWS_WS, STEP)} fill="none" stroke={C.maws} strokeWidth={LW} />
      <path d={linePath(y, MET_WS, STEP)} fill="none" stroke={C.met} strokeWidth={LW} />
      <path d={linePath(y, ECOR_WS, ECOR_STEP)} fill="none" stroke={C.ecorWs} strokeWidth={LW} />
      <Sonde y={y} vals={SONDE_WS} />
      <Shade p={p} />
      <Frame p={p} y={y} />
      <Legend lx0={612} lx1={891} tx={920} y0={1525} dy={49.5} items={[
        { kind: "line", color: C.aos, label: "AOS wind speed" },
        { kind: "line", color: C.aos1, label: "AOS wind speed (1 min)" },
        { kind: "line", color: C.maws, label: "MAWS wind speed" },
        { kind: "line", color: C.met, label: "MET wind speed" },
        { kind: "line", color: C.ecorWs, label: "ECOR horizontal wind speed" },
        { kind: "sonde", label: "Sonde (alt. 91.9m)" },
      ]} />
    </g>
  );
}

function Panel3() {
  const p = P[2];
  const y = yScale(p);
  const ring = { r: 12, fill: "#DCEFF5", stroke: C.aos, strokeWidth: 7 };
  return (
    <g>
      <path d={bandPath(y, AOS_DIR_HI, STEP, AOS_DIR_LO, STEP)} fill={C.aos} />
      {pts(AOS_DIR_HI, STEP).map((d, i) => <circle key={"h" + i} cx={x(d[0])} cy={y(d[1])} {...ring} />)}
      {pts(AOS_DIR_LO, STEP).map((d, i) => <circle key={"l" + i} cx={x(d[0])} cy={y(d[1])} {...ring} />)}
      {AOS_DIR_OUT.map((d, i) => <circle key={"o" + i} cx={x(d[0])} cy={y(d[1])} {...ring} />)}
      {pts(MAWS_DIR, STEP).map((d, i) => (
        <path key={"m" + i} d={diamondPath(x(d[0]), y(d[1]), 27, 30)} fill={C.maws} />
      ))}
      {pts(MET_DIR, STEP).map((d, i) => (
        <rect key={"q" + i} x={x(d[0]) - 22} y={y(d[1]) - 22} width={44} height={44} fill={C.met} />
      ))}
      {pts(ECOR_DIR, ECOR_STEP).map((d, i) => (
        <g key={"s" + i}>
          <path d={starPath(x(d[0]), y(d[1]), 36)} fill={C.ecorWs} />
          <path d={starPath(x(d[0]), y(d[1]), 6)} fill="#C86464" />
        </g>
      ))}
      <Sonde y={y} vals={SONDE_DIR} />
      <Frame p={p} y={y} />
      <Legend lx0={560} lx1={676} tx={789} y0={3121.7} dy={51.6} items={[
        { kind: "circle", mx: 618, label: "AOS wind dir" },
        { kind: "diamond", mx: 618, label: "MAWS wind dir" },
        { kind: "square", mx: 618, label: "MET Wind Dir" },
        { kind: "star", mx: 618, label: "ECOR Wind Dir" },
        { kind: "sonde", mx: 618, label: "Sonde (alt. 91.9m)" },
      ]} />
    </g>
  );
}

function Panel4() {
  const p = P[3];
  const y = yScale(p);
  return (
    <g>
      <path d={linePath(y, AOS_T, STEP)} fill="none" stroke={C.aos} strokeWidth={LW + 1} />
      <path d={linePath(y, MAWS_T, STEP)} fill="none" stroke={C.maws} strokeWidth={LW} />
      <path d={linePath(y, MET_T, STEP)} fill="none" stroke={C.met} strokeWidth={LW} />
      <path d={linePath(y, ECOR_T, ECOR_STEP)} fill="none" stroke={C.ecor} strokeWidth={LW} />
      <Sonde y={y} vals={SONDE_T} />
      <Shade p={p} />
      <Frame p={p} y={y} />
      <Legend lx0={1356} lx1={1633} tx={1663} y0={3799.3} dy={49.75} items={[
        { kind: "line", color: C.aos, label: "AOS srf air temp" },
        { kind: "line", color: C.maws, label: "MAWS srf air temp" },
        { kind: "line", color: C.met, label: "MET srf air temp" },
        { kind: "line", color: C.ecor, label: "ECOR srf air temp" },
        { kind: "sonde", label: "Sonde (alt. 91.9m)" },
      ]} />
    </g>
  );
}

function Panel5() {
  const p = P[4];
  const y = yScale(p);
  return (
    <g>
      <path d={bandPath(y, AOS_RH_HI, STEP, AOS_RH_LO, STEP)} fill={C.aos} stroke={C.aos} strokeWidth={3} />
      <path d={linePath(y, AOS_RH_1MIN, STEP)} fill="none" stroke={C.aos1} strokeWidth={LW} />
      <path d={linePath(y, MAWS_RH, STEP)} fill="none" stroke={C.maws} strokeWidth={LW} />
      <path d={linePath(y, MET_RH, STEP)} fill="none" stroke={C.met} strokeWidth={LW} />
      <Sonde y={y} vals={SONDE_RH} />
      <Shade p={p} />
      <Frame p={p} y={y} />
      <Legend lx0={483} lx1={760} tx={790} y0={4921} dy={50.5} items={[
        { kind: "line", color: C.aos, label: "AOS RH" },
        { kind: "line", color: C.aos1, label: "AOS RH (1 min)" },
        { kind: "line", color: C.maws, label: "MAWS RH" },
        { kind: "line", color: C.met, label: "MET RH" },
        { kind: "sonde", label: "Sonde (alt. 91.9m)" },
      ]} />
    </g>
  );
}

function Panel6() {
  const p = P[5];
  const y = yScale(p);
  return (
    <g>
      <path d={linePath(y, MWR2C_PWV, STEP)} fill="none" stroke={C.mwr2} strokeWidth={8} />
      <path d={linePath(y, MWR3C_PWV, STEP)} fill="none" stroke={C.mwr3} strokeWidth={9} />
      <Sonde y={y} vals={SONDE_PWV} />
      <Shade p={p} />
      <Frame p={p} y={y} />
      <Legend lx0={483} lx1={761} tx={790} y0={5988.3} dy={50.5} items={[
        { kind: "line", color: C.mwr2, label: "MWR 2C PWV" },
        { kind: "line", color: C.ecorWs, label: "MWR 3C PWV", xmark: true },
        { kind: "sonde", label: "Sonde (alt. 91.9m)" },
      ]} />
    </g>
  );
}

export default function App() {
  return (
    <svg width={2199} height={4096} style={{ position: "absolute", left: 0, top: 0, background: "#fff" }}>
      <rect x={0} y={0} width={2199} height={4096} fill="#fff" />
      <g transform={`scale(${S})`}>
        <Panel1 />
        <Panel2 />
        <Panel3 />
        <Panel4 />
        <Panel5 />
        <Panel6 />
      </g>
    </svg>
  );
}
